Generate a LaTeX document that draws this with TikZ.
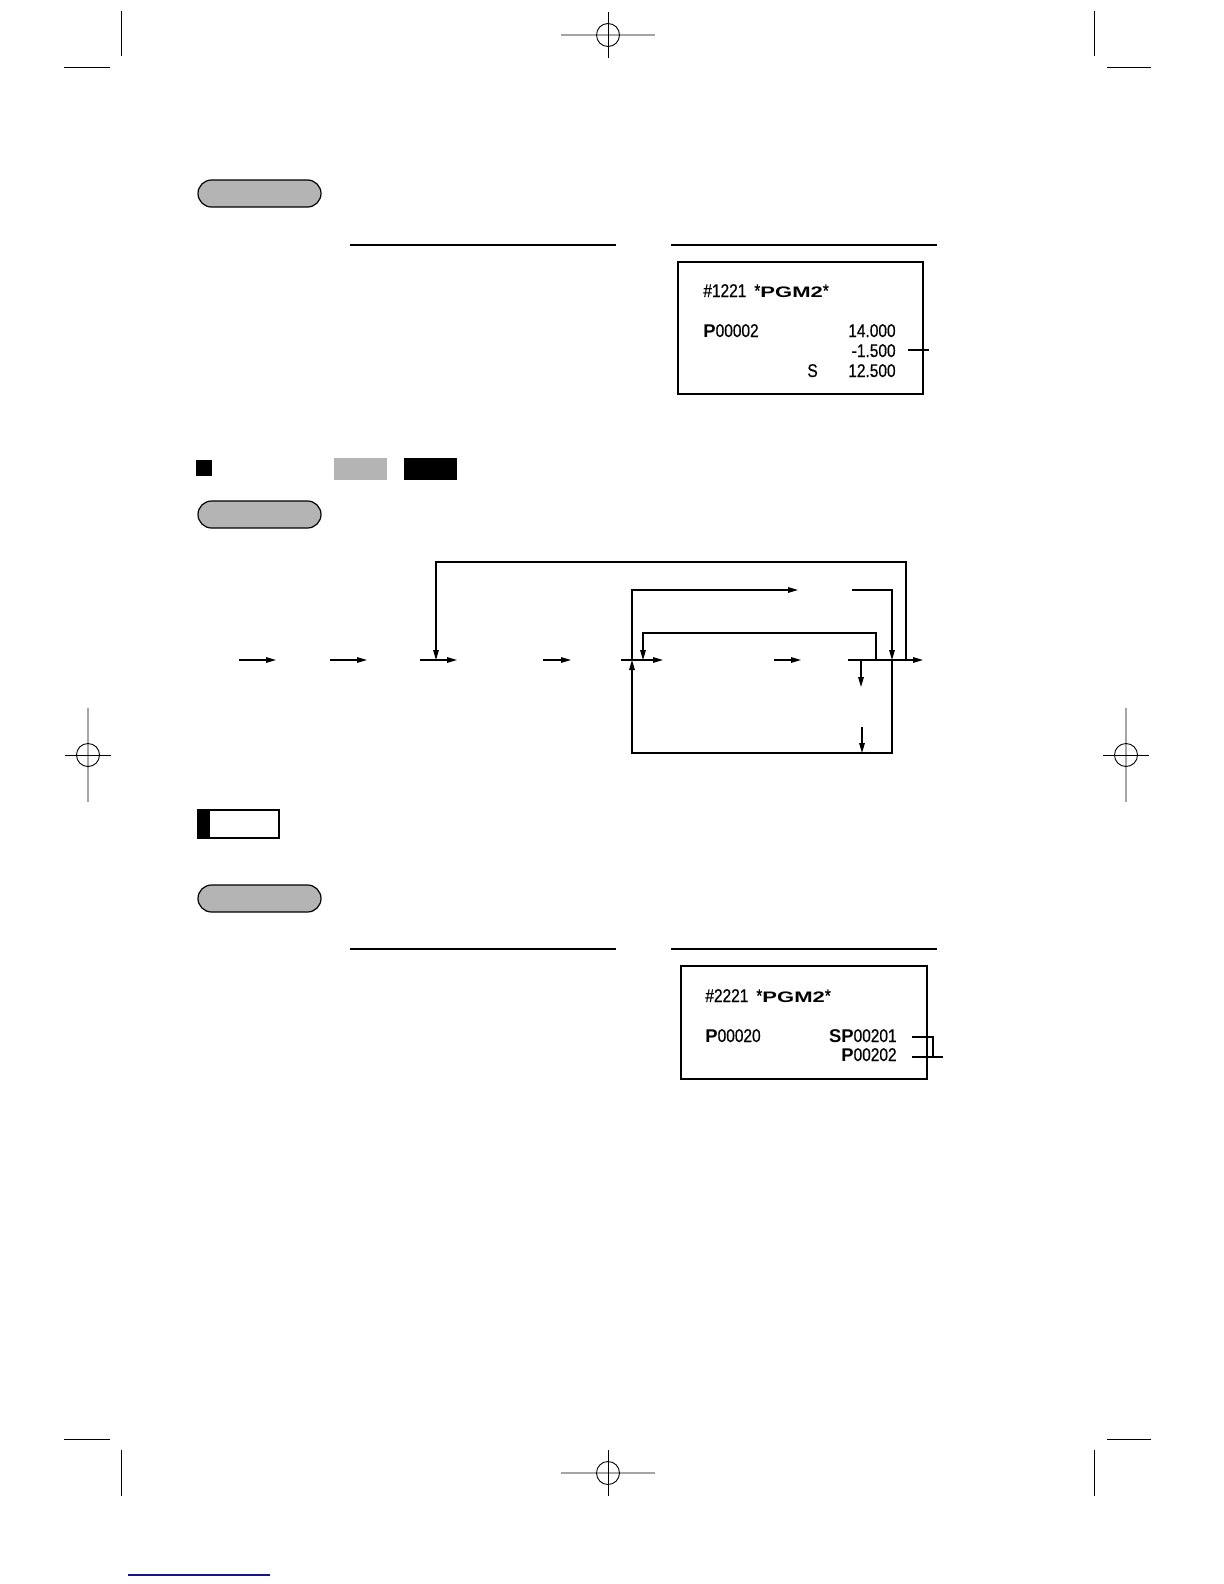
\documentclass[tikz,border=0pt]{standalone}
\usepackage{fontspec}
\usepackage{xcolor}
\usepackage{tikz}
\usetikzlibrary{arrows.meta, positioning, calc}
\newfontfamily\rcpt[FakeStretch=0.84,FakeBold=0.6]{Liberation Sans}
\newfontfamily\rcptb{Liberation Sans}
\newfontfamily\rcptwide[FakeStretch=1.45]{Liberation Sans}
\newcommand{\rsize}{\fontsize{9.2}{10}\selectfont}
\newcommand{\pgmtag}{{\rcptwide\bfseries\fontsize{7.6}{8}\selectfont PGM2}}
\definecolor{pillgray}{RGB}{180,180,180}
\definecolor{markgray}{RGB}{165,165,165}
\definecolor{linkblue}{RGB}{20,20,140}
\tikzset{
  pill/.style={rectangle, draw=black, fill=pillgray, minimum width=61.5pt,
    minimum height=13.5pt, rounded corners=6.75pt, line width=0.6pt, inner sep=0pt},
  keybox/.style={rectangle, minimum width=26.5pt, minimum height=11pt, inner sep=0pt},
  notebox/.style={rectangle, draw=black, minimum width=40.5pt, minimum height=14pt,
    inner sep=0pt, line width=0.6pt,
    path picture={\fill[black] (path picture bounding box.south west)
      rectangle ([xshift=6pt]path picture bounding box.north west);}},
  receipt/.style={rectangle, draw=black, line width=0.6pt, inner sep=0pt},
  rtxt/.style={inner sep=0pt, font=\rcpt\rsize},
  arrow/.style={-{Triangle[length=5pt,width=2.8pt]}, line width=0.6pt, color=black},
  line/.style={line width=0.6pt, color=black},
  rule/.style={line width=0.7pt, color=black},
  crop/.style={line width=0.45pt, color=black},
  regmark/.pic={
    \draw[line width=0.9pt, markgray] (0,-47) -- (0,47);
    \draw[line width=0.45pt] (-23,0) -- (23,0);
    \draw[line width=0.45pt] (0,0) circle[radius=11.5];
  }
}

\begin{document}
\begin{tikzpicture}[x=0.5pt, y=-0.5pt]
  \useasboundingbox (0,0) rectangle (1224,1584);

  % Crop and registration marks
  \draw[crop] (121,11) -- (121,56);
  \draw[crop] (64,67) -- (110,67);
  \draw[crop] (1094,11) -- (1094,56);
  \draw[crop] (1107,67) -- (1151,67);
  \draw[crop] (121,1450) -- (121,1496);
  \draw[crop] (64,1439) -- (110,1439);
  \draw[crop] (1094,1450) -- (1094,1496);
  \draw[crop] (1107,1439) -- (1151,1439);
  \pic[rotate=90] at (608,35) {regmark};
  \pic[rotate=90] at (608,1473) {regmark};
  \pic at (88,755) {regmark};
  \pic at (1126,755) {regmark};
  \draw[linkblue, line width=0.8pt] (128,1575) -- (270,1575);

  % Section 1
  \node[pill] (pillA) at (259.5,193.5) {};
  \draw[rule] (350,245) -- (616,245);
  \draw[rule] (671,245) -- (937,245);
  \node[receipt, minimum width=122.5pt, minimum height=66pt] (rcptA) at (800.5,328) {};
  \node[rtxt, anchor=base west] (hdrA) at (703,297) {\#1221\hspace{4pt}*\pgmtag*};
  \node[rtxt, anchor=base west] (pluA) at (703,337) {{\rcptb\bfseries P}00002};
  \node[rtxt, anchor=base east] (amtA) at (896,337) {14.000};
  \node[rtxt, anchor=base east] (discA) at (896,357) {-1.500};
  \node[rtxt, anchor=base west] (subA) at (807,377) {S};
  \node[rtxt, anchor=base east] (totA) at (896,377) {12.500};
  \coordinate (leadA) at (929,350);
  \draw[line] (leadA) -- ++(-21,0);

  % Section 2 heading
  \node[fill=black, minimum size=8pt, inner sep=0pt] (bullet) at (204,468) {};
  \node[keybox, fill=pillgray] (keyA) at (360.5,469) {};
  \node[keybox, fill=black] (keyB) at (430,469) {};
  \node[pill] (pillB) at (259.5,514.5) {};

  % Key sequence
  \coordinate (s1) at (239,660); \coordinate (e1) at (276,660);
  \coordinate (s2) at (330,660); \coordinate (e2) at (367,660);
  \coordinate (s3) at (420,660); \coordinate (e3) at (457,660);
  \coordinate (s4) at (543,660); \coordinate (e4) at (571,660);
  \coordinate (s5) at (621,660); \coordinate (e5) at (663,660);
  \coordinate (s6) at (774,660); \coordinate (e6) at (801,660);
  \coordinate (s7) at (848,660); \coordinate (e7) at (923,660);
  \foreach \i in {1,...,7}
    \draw[arrow] (s\i) -- (e\i);

  % Loops
  \coordinate (jTop) at (906,660);  \coordinate (topL) at (436,562);
  \coordinate (j3) at (436,660);
  \coordinate (jA) at (632,660);    \coordinate (upEnd) at (798,590);
  \coordinate (upStart) at (852,590); \coordinate (jB) at (892,660);
  \coordinate (jC) at (876,660);    \coordinate (inL) at (643,633);
  \coordinate (jD) at (643,660);    \coordinate (botL) at (632,753);
  \draw[arrow] (jTop) |- (topL) -- (j3);
  \draw[arrow] (jA) |- (upEnd);
  \draw[arrow] (upStart) -| (jB);
  \draw[arrow] (jC) |- (inL) -- (jD);
  \draw[arrow] (jB) |- (botL) -- (jA);
  \coordinate (dnA) at (861,660); \coordinate (dnAe) at (861,687);
  \coordinate (dnB) at (862,727); \coordinate (dnBe) at (862,753);
  \draw[arrow] (dnA) -- (dnAe);
  \draw[arrow] (dnB) -- (dnBe);

  % Section 3
  \node[notebox] (note) at (238.5,824) {};
  \node[pill] (pillC) at (259.5,898.5) {};
  \draw[rule] (350,949) -- (616,949);
  \draw[rule] (671,949) -- (937,949);
  \node[receipt, minimum width=123pt, minimum height=56.5pt] (rcptB) at (804,1022.5) {};
  \node[rtxt, anchor=base west] (hdrB) at (705,1002) {\#2221\hspace{4pt}*\pgmtag*};
  \node[rtxt, anchor=base west] (pluB) at (705,1042) {{\rcptb\bfseries P}00020};
  \node[rtxt, anchor=base east] (spB) at (897,1042) {{\rcptb\bfseries SP}00201};
  \node[rtxt, anchor=base east] (plB) at (897,1061) {{\rcptb\bfseries P}00202};
  \coordinate (brT) at (912,1037); \coordinate (brB) at (912,1057);
  \coordinate (brX) at (943,1057);
  \draw[line] (brT) -- ++(21,0) -- ++(0,20);
  \draw[line] (brB) -- (brX);
\end{tikzpicture}
\end{document}
